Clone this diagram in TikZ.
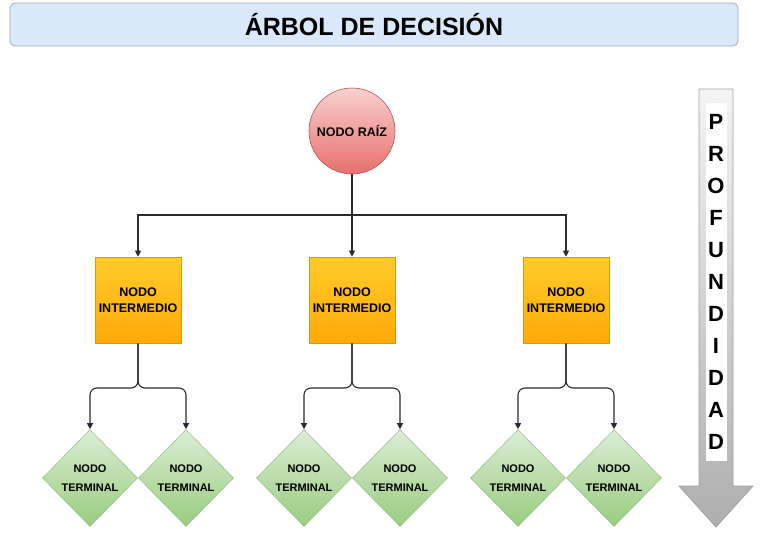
\documentclass[tikz,border=0pt]{standalone}
\usepackage{fontspec}
\setmainfont{Liberation Sans}
\usetikzlibrary{shapes.geometric,arrows.meta}
\definecolor{titlefill}{HTML}{DAE8FC}
\definecolor{titleline}{HTML}{A3AEBD}
\definecolor{rootA}{HTML}{F8D0CE}
\definecolor{rootB}{HTML}{E8706C}
\definecolor{rootline}{HTML}{B85450}
\definecolor{boxA}{HTML}{FFCB2A}
\definecolor{boxB}{HTML}{FFAA0A}
\definecolor{boxline}{HTML}{D79B00}
\definecolor{leafA}{HTML}{DCEDD6}
\definecolor{leafB}{HTML}{97CC7E}
\definecolor{leafline}{HTML}{9CC48A}
\definecolor{linkc}{HTML}{2B2B2B}
\definecolor{arrA}{HTML}{F4F4F4}
\definecolor{arrB}{HTML}{AEAEAE}
\definecolor{arrline}{HTML}{A0A0A0}
\tikzset{
  titlebox/.style={draw=titleline, fill=titlefill, rounded corners=5pt, line width=0.8pt,
    minimum width=728pt, minimum height=43pt, inner sep=0pt,
    font=\fontsize{25}{30}\selectfont\bfseries},
  rootnode/.style={circle, draw=rootline, line width=0.6pt, top color=rootA, bottom color=rootB,
    minimum size=86pt, inner sep=0pt, font=\fontsize{12.5}{14}\selectfont\bfseries},
  midnode/.style={rectangle, draw=boxline, line width=0.6pt, top color=boxA, bottom color=boxB,
    minimum width=86pt, minimum height=86pt, inner sep=0pt, align=center,
    font=\fontsize{12.5}{16}\selectfont\bfseries},
  leafnode/.style={diamond, draw=leafline, line width=0.6pt, top color=leafA, bottom color=leafB,
    minimum width=95pt, minimum height=97pt, inner sep=0pt, align=center,
    font=\fontsize{11}{19}\selectfont\bfseries},
  link/.style={draw=linkc, line width=1.1pt, -{Triangle[length=6pt,width=6pt]}},
  bracelink/.style={link, rounded corners=7pt},
  depthtext/.style={fill=white, inner sep=0pt, minimum width=21pt, minimum height=358pt,
    align=center, font=\fontsize{22}{32}\selectfont\bfseries},
}
\begin{document}
\begin{tikzpicture}[x=1pt,y=-1pt]
\useasboundingbox (0,0) rectangle (772,541);
\fill[white] (0,0) rectangle (772,541);

\node[titlebox] (title) at (374,24.5) {ÁRBOL DE DECISIÓN};

\node[rootnode] (root) at (352,131) {NODO RAÍZ};

\node[midnode] (m1) at (138,300) {NODO\\INTERMEDIO};
\node[midnode] (m2) at (352,300) {NODO\\INTERMEDIO};
\node[midnode] (m3) at (566,300) {NODO\\INTERMEDIO};

\node[leafnode] (t1) at (90,478) {NODO\\TERMINAL};
\node[leafnode] (t2) at (186,478) {NODO\\TERMINAL};
\node[leafnode] (t3) at (304,478) {NODO\\TERMINAL};
\node[leafnode] (t4) at (400,478) {NODO\\TERMINAL};
\node[leafnode] (t5) at (518,478) {NODO\\TERMINAL};
\node[leafnode] (t6) at (614,478) {NODO\\TERMINAL};

\coordinate (hl) at (352,215);
\draw[link] (root) -- (m2);
\draw[link] (hl) -| (m1);
\draw[link] (hl) -| (m3);

\coordinate (j1) at (138,388);
\coordinate (j2) at (352,388);
\coordinate (j3) at (566,388);
\draw[bracelink] (m1.south) -- (j1) -| (t1.north);
\draw[bracelink] (m1.south) -- (j1) -| (t2.north);
\draw[bracelink] (m2.south) -- (j2) -| (t3.north);
\draw[bracelink] (m2.south) -- (j2) -| (t4.north);
\draw[bracelink] (m3.south) -- (j3) -| (t5.north);
\draw[bracelink] (m3.south) -- (j3) -| (t6.north);

% depth arrow
\path[draw=arrline, line width=0.8pt, top color=arrA, bottom color=arrB]
  (699,89) -- (733,89) -- (733,486) -- (753,486) -- (716,527) -- (679,486) -- (699,486) -- cycle;
\node[depthtext] (depth) at (716,282) {P\\R\\O\\F\\U\\N\\D\\I\\D\\A\\D};
\end{tikzpicture}
\end{document}
